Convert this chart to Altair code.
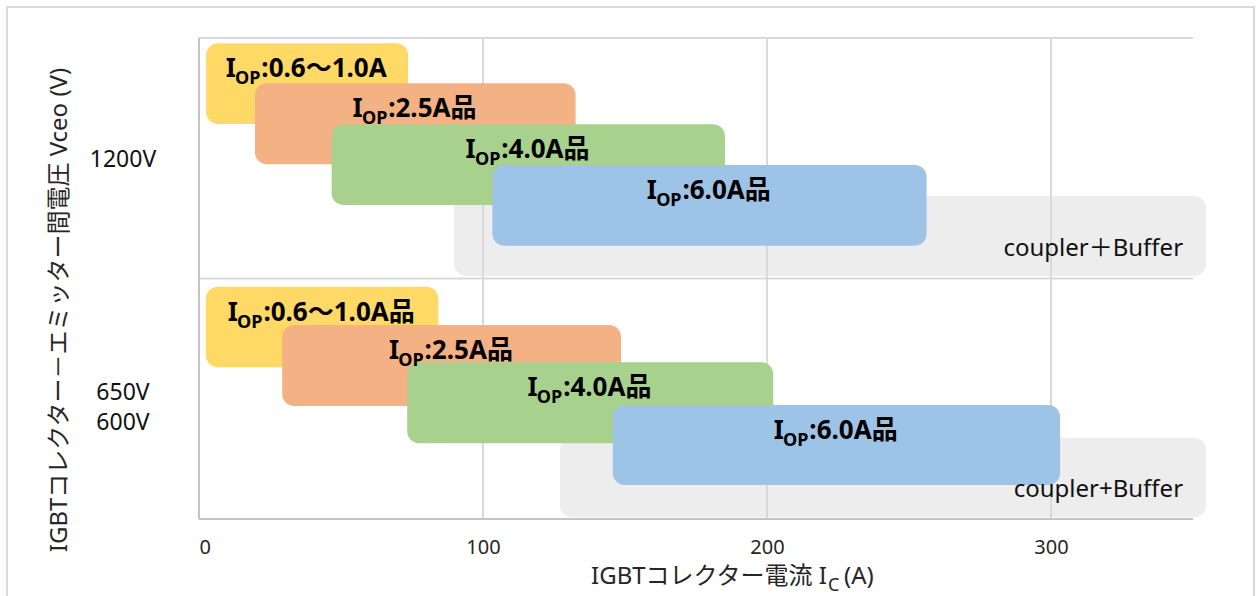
import altair as alt
import pandas as pd

# ---------------------------------------------------------------------------
# Data: IGBT collector current coverage (A) per photocoupler drive class
# ---------------------------------------------------------------------------
voltage_class = ["1200V"] * 5 + ["650V/600V"] * 5
device = ["0.6-1.0A", "2.5A", "4.0A", "6.0A", "buffer"] * 2
rating = [":0.6〜1.0A", ":2.5A品", ":4.0A品", ":6.0A品", "coupler＋Buffer",
          ":0.6〜1.0A品", ":2.5A品", ":4.0A品", ":6.0A品", "coupler+Buffer"]
ic_min = [2.5, 19.7, 46.7, 103.3, 89.8, 2.4, 29.3, 73.3, 145.7, 127.1]
ic_max = [73.6, 132.6, 185.2, 256.2, 354.6, 84.3, 148.6, 202.2, 303.2, 354.6]
# vertical lane of every range inside its voltage band (band 1200V: 1..2, 650/600V: 0..1)
lane_low = [1.642, 1.475, 1.306, 1.136, 1.010, 0.631, 0.470, 0.315, 0.141, 0.007]
lane_high = [1.978, 1.812, 1.641, 1.472, 1.343, 0.966, 0.807, 0.652, 0.474, 0.338]

voltage_labels = ["1200V", "650V", "600V"]
voltage_pos = [1.464, 0.493, 0.368]

tick_values = [0, 100, 200, 300]

device_colors = {
    "0.6-1.0A": "#FFD966",
    "2.5A": "#F4B183",
    "4.0A": "#A9D18E",
    "6.0A": "#9DC3E6",
    "buffer": "#EDEDED",
}

# ---------------------------------------------------------------------------
# Geometry
# ---------------------------------------------------------------------------
PLOT_W, PLOT_H = 994, 481
X_MAX, Y_MAX = 350, 2
PX_X = PLOT_W / X_MAX   # px per ampere
PX_Y = PLOT_H / Y_MAX   # px per lane unit

MAIN_SIZE, SUB_SIZE = 26, 18
LABEL_FONT = "Noto Sans, Noto Sans CJK JP"

# approximate advance widths (em) of Noto Sans Bold
BOLD_EM = {"I": 0.36, "O": 0.80, "P": 0.66, ":": 0.29, ".": 0.29, "A": 0.73}


def text_width(s, size):
    w = 0.0
    for ch in s:
        if ch.isdigit():
            w += 0.572
        elif ch in BOLD_EM:
            w += BOLD_EM[ch]
        elif ord(ch) > 0x2000:
            w += 1.0
        else:
            w += 0.6
    return w * size


boxes = pd.DataFrame({
    "band": voltage_class,
    "device": device,
    "rating": rating,
    "ic_min": ic_min,
    "ic_max": ic_max,
    "lane_low": lane_low,
    "lane_high": lane_high,
})
buffer_boxes = boxes[boxes["device"] == "buffer"].copy()
drive_boxes = boxes[boxes["device"] != "buffer"].copy()

# "I" + subscript "OP" + rating, centred on each box as one line
parts = []
for _, r in drive_boxes.iterrows():
    w_i = text_width("I", MAIN_SIZE)
    w_op = text_width("OP", SUB_SIZE)
    w_rest = text_width(r["rating"], MAIN_SIZE)
    left = -(w_i + w_op + w_rest) / 2
    centre = (r["ic_min"] + r["ic_max"]) / 2
    base = r["lane_high"] - 34 / PX_Y
    parts.append({"x": centre + left / PX_X, "y": base, "t": "I", "part": "main"})
    parts.append({"x": centre + (left + w_i) / PX_X, "y": base, "t": "OP", "part": "sub"})
    parts.append({"x": centre + (left + w_i + w_op) / PX_X, "y": base, "t": r["rating"], "part": "main"})
parts = pd.DataFrame(parts)

buffer_labels = pd.DataFrame({
    "x": buffer_boxes["ic_max"] - 23 / PX_X,
    "y": buffer_boxes["lane_low"] + 20 / PX_Y,
    "t": buffer_boxes["rating"],
})

x_scale = alt.Scale(domain=[0, X_MAX], nice=False, zero=False)
y_scale = alt.Scale(domain=[0, Y_MAX], nice=False, zero=False)
x_axis = alt.Axis(values=tick_values, grid=False, domain=False, ticks=False,
                  labelFontSize=20, labelFont="Noto Sans", labelColor="#262626",
                  labelPadding=18, title=None)


def xenc(field):
    return alt.X(field, type="quantitative", scale=x_scale, axis=x_axis)


def yenc(field):
    return alt.Y(field, type="quantitative", scale=y_scale, axis=None)


color_scale = alt.Scale(domain=list(device_colors), range=list(device_colors.values()))

# outer frame of the whole figure
frame = alt.Chart(alt.Data(values=[{}])).mark_rect(
    filled=False, stroke="#d9d9d9", strokeWidth=2
).encode(x=alt.value(-192), x2=alt.value(1055), y=alt.value(-31), y2=alt.value(600))

buffer_rects = alt.Chart(buffer_boxes).mark_rect(cornerRadius=12).encode(
    x=xenc("ic_min"), x2="ic_max",
    y=yenc("lane_low"), y2="lane_high",
    color=alt.Color("device:N", scale=color_scale, legend=None),
)

grid_v = alt.Chart(pd.DataFrame({"v": tick_values[1:]})).mark_rule(
    color="#d9d9d9", strokeWidth=2).encode(x=xenc("v"))
axis_v = alt.Chart(pd.DataFrame({"v": [0]})).mark_rule(
    color="#c4c4c4", strokeWidth=2).encode(x=xenc("v"))
grid_h = alt.Chart(pd.DataFrame({"h": [1, 2]})).mark_rule(
    color="#d9d9d9", strokeWidth=2).encode(y=yenc("h"))
axis_h = alt.Chart(pd.DataFrame({"h": [0]})).mark_rule(
    color="#c4c4c4", strokeWidth=2).encode(y=yenc("h"))

drive_rects = alt.Chart(drive_boxes).mark_rect(cornerRadius=12).encode(
    x=xenc("ic_min"), x2="ic_max",
    y=yenc("lane_low"), y2="lane_high",
    color=alt.Color("device:N", scale=color_scale, legend=None),
)

main_text = alt.Chart(parts[parts["part"] == "main"]).mark_text(
    align="left", baseline="alphabetic", font=LABEL_FONT, fontWeight="bold",
    fontSize=MAIN_SIZE, color="#000000"
).encode(x=xenc("x"), y=yenc("y"), text="t:N")

sub_text = alt.Chart(parts[parts["part"] == "sub"]).mark_text(
    align="left", baseline="alphabetic", font=LABEL_FONT, fontWeight="bold",
    fontSize=SUB_SIZE, dy=7, color="#000000"
).encode(x=xenc("x"), y=yenc("y"), text="t:N")

buffer_text = alt.Chart(buffer_labels).mark_text(
    align="right", baseline="alphabetic", font=LABEL_FONT, fontSize=24, color="#111111"
).encode(x=xenc("x"), y=yenc("y"), text="t:N")

volt_text = alt.Chart(pd.DataFrame({"t": voltage_labels, "pos": voltage_pos})).mark_text(
    align="center", baseline="alphabetic", font="Noto Sans", fontSize=23, color="#111111"
).encode(x=alt.value(-76), y=yenc("pos"), text="t:N")

# axis titles (collector current with subscript C)
AX_FONT = "Noto Sans, Noto Sans CJK JP"
xt_main = alt.Chart(alt.Data(values=[{}])).mark_text(
    align="right", baseline="alphabetic", font=AX_FONT, fontSize=24, color="#262626",
    text="IGBTコレクター電流 I").encode(x=alt.value(628), y=alt.value(546))
xt_sub = alt.Chart(alt.Data(values=[{}])).mark_text(
    align="left", baseline="alphabetic", font=AX_FONT, fontSize=18, color="#262626",
    text="C").encode(x=alt.value(629), y=alt.value(553))
xt_unit = alt.Chart(alt.Data(values=[{}])).mark_text(
    align="left", baseline="alphabetic", font=AX_FONT, fontSize=24, color="#262626",
    text="(A)").encode(x=alt.value(645), y=alt.value(546))
yt = alt.Chart(alt.Data(values=[{}])).mark_text(
    align="center", baseline="alphabetic", angle=270, font=AX_FONT, fontSize=24,
    color="#262626", text="IGBTコレクター－エミッター間電圧 Vceo (V)"
).encode(x=alt.value(-132), y=alt.value(272))

chart = alt.layer(
    frame, buffer_rects, grid_v, grid_h, axis_v, axis_h, drive_rects,
    main_text, sub_text, buffer_text, volt_text, xt_main, xt_sub, xt_unit, yt,
).properties(
    width=PLOT_W, height=PLOT_H,
    autosize=alt.AutoSizeParams(type="none"),
    padding={"left": 199, "top": 38, "right": 64, "bottom": 77},
    background="white",
).configure_view(stroke=None)

chart.save("out.html", embed_options={"renderer": "svg", "actions": False})
